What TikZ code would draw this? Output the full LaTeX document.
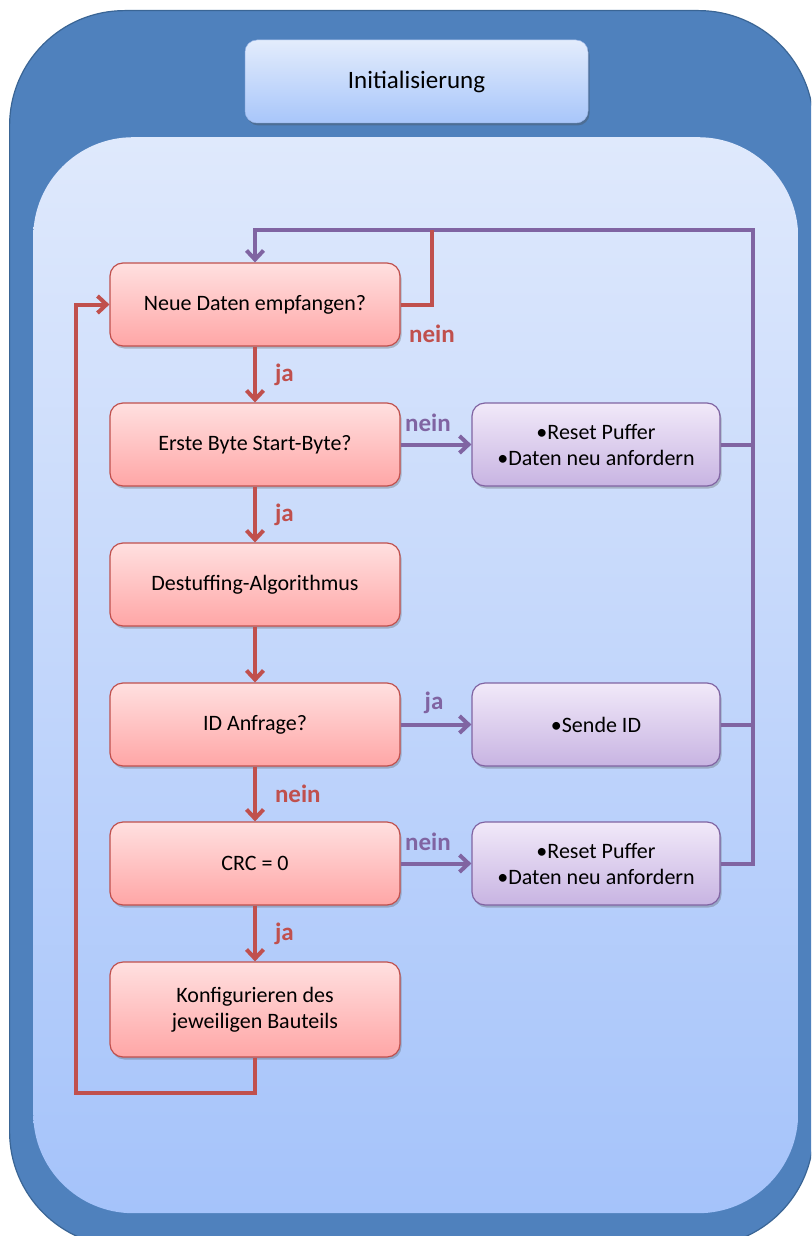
\documentclass[tikz,border=0pt]{standalone}
\usepackage{fontspec}
\setmainfont{Carlito}
\usetikzlibrary{arrows.meta,shadows,positioning}
\definecolor{outerblue}{HTML}{4F81BD}
\definecolor{outerline}{HTML}{3A6595}
\definecolor{innertop}{HTML}{DFE9FC}
\definecolor{innerbot}{HTML}{A5C3FA}
\definecolor{titletop}{HTML}{E3ECFC}
\definecolor{titlebot}{HTML}{A8C6FA}
\definecolor{redc}{HTML}{C0504D}
\definecolor{redtop}{HTML}{FFE0E0}
\definecolor{redbot}{HTML}{FFA6A6}
\definecolor{purc}{HTML}{8064A2}
\definecolor{purtop}{HTML}{F1E9F9}
\definecolor{purbot}{HTML}{C8B4E2}
\begin{document}
\begin{tikzpicture}[x=1pt,y=-1pt,
  nodefont/.style={font=\fontsize{22}{26}\selectfont},
  outerbox/.style={rectangle, rounded corners=115pt, fill=outerblue, draw=outerline, line width=1.2pt, inner sep=0pt, anchor=north west},
  innerbox/.style={rectangle, rounded corners=100pt, top color=innertop, bottom color=innerbot, draw=none, inner sep=0pt, anchor=north west},
  titlebox/.style={rectangle, rounded corners=12pt, top color=titletop, bottom color=titlebot, draw=titlebot!80!black!40!titlebot, line width=0.5pt, minimum width=343pt, minimum height=83pt, font=\fontsize{25}{30}\selectfont, drop shadow={shadow xshift=1.5pt, shadow yshift=-2.5pt, opacity=0.35, fill=black!70}},
  rbox/.style={rectangle, rounded corners=13pt, draw=redc, line width=1.2pt, top color=redtop, bottom color=redbot, minimum width=290pt, minimum height=83pt, align=center, nodefont, drop shadow={shadow xshift=1.5pt, shadow yshift=-2.5pt, opacity=0.3, fill=black!70}},
  pbox/.style={rectangle, rounded corners=13pt, draw=purc, line width=1.2pt, top color=purtop, bottom color=purbot, minimum width=248pt, minimum height=83pt, align=center, nodefont, drop shadow={shadow xshift=1.5pt, shadow yshift=-2.5pt, opacity=0.3, fill=black!70}},
  rline/.style={draw=redc, line width=4pt},
  pline/.style={draw=purc, line width=4pt},
  rarr/.style={rline, -{Straight Barb[length=9pt,width=17pt]}},
  parr/.style={pline, -{Straight Barb[length=9pt,width=17pt]}},
  lblr/.style={text=redc, font=\fontsize{25}{29}\selectfont\bfseries, inner sep=0pt},
  lblp/.style={text=purc, font=\fontsize{25}{29}\selectfont\bfseries, inner sep=0pt}
]
\useasboundingbox (0,0) rectangle (811,1236);
\clip (0,0) rectangle (811,1236);

\node[outerbox, minimum width=804pt, minimum height=1236pt] (outer) at (9,10) {};
\node[innerbox, minimum width=765pt, minimum height=1076pt] (inner) at (33,137) {};
\node[titlebox] (init) at (416.5,81.5) {Initialisierung};

\node[rbox] (n1) at (255,304.5) {Neue Daten empfangen?};
\node[rbox] (n2) at (255,444.5) {Erste Byte Start-Byte?};
\node[rbox] (n3) at (255,584.5) {Destuffing-Algorithmus};
\node[rbox] (n4) at (255,724.5) {ID Anfrage?};
\node[rbox] (n5) at (255,863.5) {CRC = 0};
\node[rbox, minimum height=95pt] (n6) at (255,1009.5) {Konfigurieren des\\jeweiligen Bauteils};

\node[pbox] (p1) at (596,444.5) {•Reset Puffer\\•Daten neu anfordern};
\node[pbox] (p2) at (596,724.5) {•Sende ID};
\node[pbox] (p3) at (596,863.5) {•Reset Puffer\\•Daten neu anfordern};

\coordinate (tr) at (753,230);
\coordinate (rj) at (432,230);
\coordinate (lb) at (76,1093);

% purple feedback
\draw[pline] (p1.east) -- (p1.east -| tr);
\draw[pline] (p2.east) -- (p2.east -| tr);
\draw[parr] (p3.east) -| (tr) -| (n1.north);

% red no-data loop
\draw[rline] (n1.east) -| node[lblr, below=18pt]{nein} (rj);

% main flow
\draw[rarr] (n1.south) -- node[lblr, right=18pt]{ja} (n2.north);
\draw[rarr] (n2.south) -- node[lblr, right=18pt]{ja} (n3.north);
\draw[rarr] (n3.south) -- (n4.north);
\draw[rarr] (n4.south) -- node[lblr, right=18pt]{nein} (n5.north);
\draw[rarr] (n5.south) -- node[lblr, right=18pt]{ja} (n6.north);

% side branches
\draw[parr] (n2.east) -- node[lblp, above=11pt, xshift=-8pt]{nein} (p1.west);
\draw[parr] (n4.east) -- node[lblp, above=9pt, xshift=-2pt]{ja} (p2.west);
\draw[parr] (n5.east) -- node[lblp, above=11pt, xshift=-8pt]{nein} (p3.west);

% return loop
\draw[rarr] (n6.south) |- (lb) |- (n1.west);
\end{tikzpicture}
\end{document}
